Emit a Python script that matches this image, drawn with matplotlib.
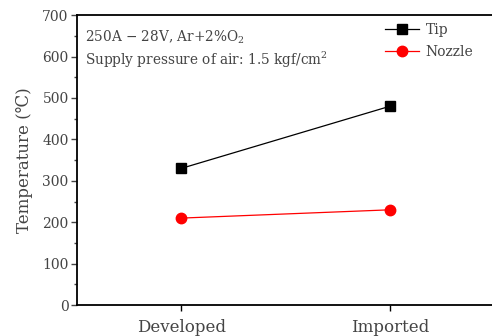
import matplotlib.pyplot as plt
from matplotlib.ticker import MultipleLocator

# data
categories = ['Developed', 'Imported']
tip_temp = [330, 480]
nozzle_temp = [210, 230]

plt.rcParams['font.family'] = ['DejaVu Serif']
plt.rcParams['mathtext.fontset'] = 'dejavuserif'
txt_color = '#444444'

fig = plt.figure(figsize=(4.92, 3.36), dpi=100)
ax = fig.add_axes([0.1565, 0.092, 0.848, 0.863])

x = list(range(1, len(categories) + 1))
ax.plot(x, tip_temp, color='black', lw=0.9, marker='s', ms=7, label='Tip')
ax.plot(x, nozzle_temp, color='red', lw=0.9, marker='o', ms=7.5, label='Nozzle')

ax.set_xlim(0.5, 2.5)
ax.set_ylim(0, 700)
ax.set_xticks(x)
ax.set_xticklabels(categories, fontsize=12, color=txt_color)
ax.yaxis.set_major_locator(MultipleLocator(100))
ax.yaxis.set_minor_locator(MultipleLocator(50))
ax.tick_params(axis='y', labelsize=10, colors=txt_color, direction='out', length=4, width=1, pad=2)
ax.tick_params(axis='y', which='minor', length=2.5, width=1, color='#444444')
ax.tick_params(axis='x', direction='out', length=4, width=1, pad=6)
for s in ['left', 'bottom', 'top']:
    ax.spines[s].set_linewidth(1.3)
ax.spines['right'].set_visible(False)

ax.set_ylabel('Temperature (\u2103)', fontsize=12, color=txt_color, labelpad=7)

ax.text(0.02, 0.924, '250A \u2212 28V, Ar+2%O$_2$', transform=ax.transAxes,
        fontsize=9.8, color=txt_color, va='center')
ax.text(0.02, 0.845, 'Supply pressure of air: 1.5 kgf/cm$^2$', transform=ax.transAxes,
        fontsize=9.8, color=txt_color, va='center')

leg = ax.legend(loc='upper right', bbox_to_anchor=(0.98, 1.015), frameon=False,
                fontsize=10, handlelength=2.4, handletextpad=0.5, labelspacing=0.55)
for t in leg.get_texts():
    t.set_color(txt_color)

fig.savefig('out.png', dpi=100)
